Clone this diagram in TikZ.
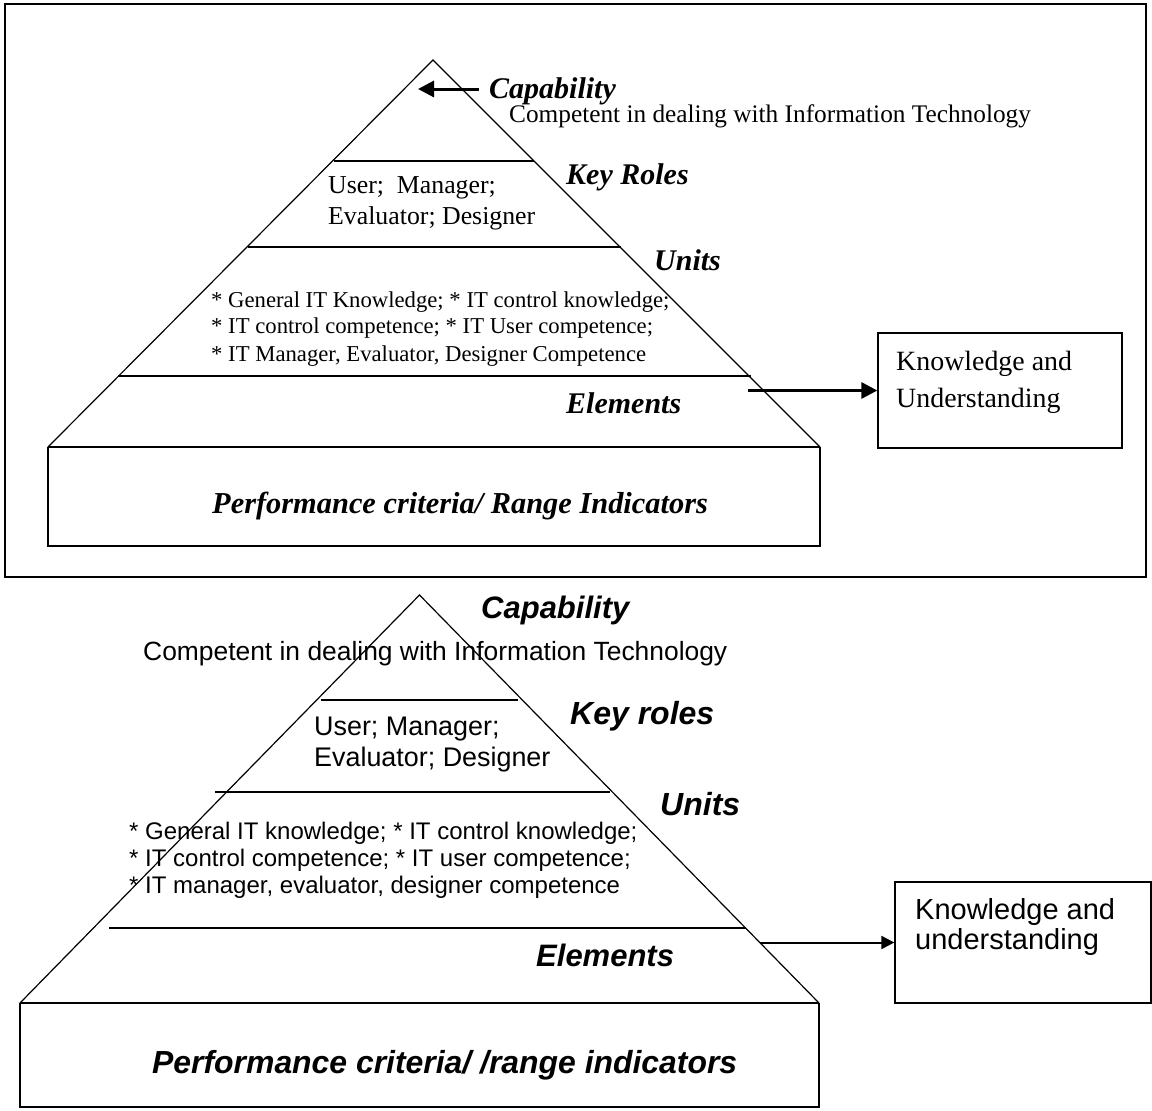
\documentclass[tikz,border=0pt]{standalone}
\usepackage{fontspec}
\setmainfont{Liberation Serif}
\newfontfamily\arialf{Liberation Sans}
\usetikzlibrary{arrows.meta}
\tikzset{
  edge/.style={line width=1.2pt},
  divider/.style={line width=2pt},
  txt/.style={anchor=base west, inner sep=0pt},
  kbox/.style={draw, line width=1.3pt, inner sep=0pt},
  bigarrow/.style={line width=3pt, -{Triangle[length=16pt,width=16pt]}},
  smallarrow/.style={line width=2pt, -{Triangle[length=13pt,width=13pt]}},
}
\newcommand{\fs}[2]{\fontsize{#1}{#2}\selectfont}
\begin{document}
\begin{tikzpicture}[x=1pt,y=-1pt]
\useasboundingbox (0,0) rectangle (1152,1111);
% ---------- top panel ----------
\draw[line width=1.3pt] (5,4) rectangle (1146,577);
\coordinate (tA) at (433,60);
\coordinate (tL) at (48,447);
\coordinate (tR) at (820,447);
\draw[edge] (tL) -- (tA) -- (tR);
\draw[line width=1.3pt] (tL) -- (48,546) -- (820,546) -- (tR);
\draw[line width=2.5pt] (tL) -- (tR);
\draw[divider] (334,161) -- (534,161);
\draw[divider] (248,247) -- (621,247);
\draw[divider] (118,376) -- (751,376);
\coordinate (capS) at (479,89);
\coordinate (capE) at (418,89);
\draw[bigarrow] (capS) -- (capE);
\node[txt] (tcap) at (489,98) {\fs{30}{36}\bfseries\itshape Capability};
\node[txt] (tcomp) at (509,122) {\fs{25.3}{30}Competent in dealing with Information Technology};
\node[txt] (tkey) at (566,184) {\fs{30}{36}\bfseries\itshape Key Roles};
\node[txt] (tuser) at (328,193) {\fs{25.8}{30}User;\ \ Manager;};
\node[txt] (teval) at (328,224) {\fs{25.8}{30}Evaluator; Designer};
\node[txt] (tunits) at (654,270) {\fs{30}{36}\bfseries\itshape Units};
\node[txt] (tu1) at (211,307) {\fs{22.7}{27}* General IT Knowledge; * IT control knowledge;};
\node[txt] (tu2) at (211,333) {\fs{22.7}{27}* IT control competence; * IT User competence;};
\node[txt] (tu3) at (211,361) {\fs{22.7}{27}* IT Manager, Evaluator, Designer Competence};
\node[txt] (telem) at (566,413) {\fs{30}{36}\bfseries\itshape Elements};
\node[txt] (tperf) at (212,513) {\fs{30.4}{36}\bfseries\itshape Performance criteria/ Range Indicators};
\node[kbox, minimum width=244pt, minimum height=115pt] (kb1) at (1000,390.5) {};
\node[txt] (tk1) at (896,370) {\fs{27.9}{34}Knowledge and};
\node[txt] (tk2) at (896,407) {\fs{27.9}{34}Understanding};
\coordinate (kS1) at (748,390.5);
\draw[bigarrow] (kS1) -- (kb1.west);
% ---------- bottom panel ----------
\coordinate (bA) at (419.5,595);
\coordinate (bL) at (20,1003);
\coordinate (bR) at (819,1003);
\draw[edge] (bL) -- (bA) -- (bR);
\draw[line width=1.3pt] (bL) -- (20,1107) -- (819,1107) -- (bR);
\draw[line width=2.5pt] (bL) -- (bR);
\draw[divider] (321,700) -- (518,700);
\draw[divider] (215,792) -- (610,792);
\draw[divider] (109,928) -- (746,928);
\node[txt] (bcap) at (481,618) {\arialf\fs{31}{36}\bfseries\itshape Capability};
\node[txt] (bcomp) at (143,660) {\arialf\fs{26.4}{31}Competent in dealing with Information\ Technology};
\node[txt] (bkey) at (570,724) {\arialf\fs{32}{38}\bfseries\itshape Key roles};
\node[txt] (buser) at (314,735) {\arialf\fs{26.9}{31}User; Manager;};
\node[txt] (beval) at (314,766) {\arialf\fs{26.9}{31}Evaluator; Designer};
\node[txt] (bunits) at (660,815) {\arialf\fs{32}{38}\bfseries\itshape Units};
\node[txt] (bu1) at (129,839) {\arialf\fs{24}{28}* General IT knowledge; * IT control knowledge;};
\node[txt] (bu2) at (129,866) {\arialf\fs{24}{28}* IT control competence; * IT user competence;};
\node[txt] (bu3) at (129,893) {\arialf\fs{24}{28}* IT manager, evaluator, designer competence};
\node[txt] (belem) at (536,966) {\arialf\fs{31}{36}\bfseries\itshape Elements};
\node[txt] (bperf) at (152,1073) {\arialf\fs{31.9}{38}\bfseries\itshape Performance criteria/ /range indicators};
\node[kbox, minimum width=256pt, minimum height=121pt] (kb2) at (1023,942.5) {};
\node[txt] (bk1) at (915,919) {\arialf\fs{29}{34}Knowledge and};
\node[txt] (bk2) at (915,949) {\arialf\fs{29}{34}understanding};
\coordinate (kS2) at (760,942.5);
\draw[smallarrow] (kS2) -- (kb2.west);
\end{tikzpicture}
\end{document}
